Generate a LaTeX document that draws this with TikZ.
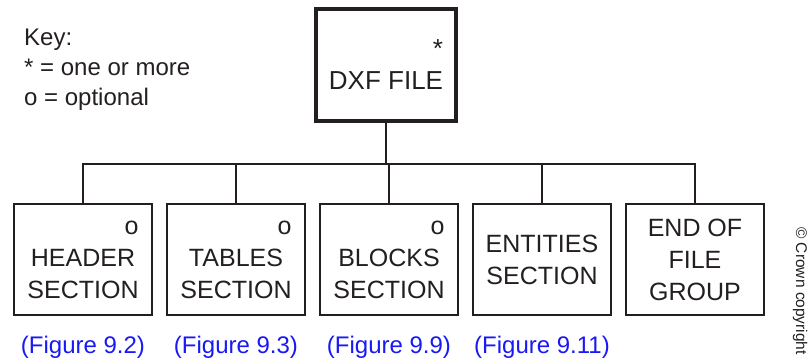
\documentclass[tikz,border=0pt]{standalone}
\usepackage{fontspec}
\setmainfont{Liberation Sans}
\usepackage{xcolor}
\usepackage{tikz}
\usetikzlibrary{positioning}
\definecolor{ink}{RGB}{35,31,32}
\definecolor{figblue}{RGB}{25,25,245}
% mark flush right over the widest line
\newcommand{\coinmark}[2]{\hphantom{#1}\llap{#2}}
\tikzstyle{section}=[
        draw=ink,
        rectangle,
        line width=2pt,
        minimum width=138pt,
        minimum height=111pt,
        align=center,
        text=ink,
        font=\fontsize{25}{32}\selectfont
]
\tikzstyle{topfile}=[section,line width=4.5pt,minimum width=140pt,
minimum height=112pt,font=\fontsize{26}{32}\selectfont]
\tikzstyle{figref}=[text=figblue,anchor=base,font=\fontsize{24}{30}\selectfont]
\tikzstyle{link}=[draw=ink,line width=2pt]

\begin{document}
\begin{tikzpicture}[x=1pt,y=-1pt]
\useasboundingbox (0,0) rectangle (809,364);
\node[topfile] (dxf) at (386,65) {\coinmark{DXF FILE}{*}\\DXF FILE};
\node[section] (hdr) at (83,259.5) {\coinmark{SECTION}{o}\\HEADER\\SECTION};
\node[section,right=13pt of hdr] (tbl) {\coinmark{SECTION}{o}\\TABLES\\SECTION};
\node[section,right=13pt of tbl] (blk) {\coinmark{SECTION}{o}\\BLOCKS\\SECTION};
\node[section,right=13pt of blk] (ent) {ENTITIES\\SECTION};
\node[section,right=13pt of ent] (eof) {END OF\\FILE\\GROUP};
\coordinate (bus) at (386,164);
%Figure references
\node[figref] (fhdr) at ([yshift=-37pt]hdr.south) {(Figure 9.2)};
\node[figref] (ftbl) at ([yshift=-37pt]tbl.south) {(Figure 9.3)};
\node[figref] (fblk) at ([yshift=-37pt]blk.south) {(Figure 9.9)};
\node[figref] (fent) at ([yshift=-37pt]ent.south) {(Figure 9.11)};
%Key and credit
\node[anchor=north west,align=left,text=ink,inner sep=0pt,
font=\fontsize{24}{30}\selectfont] (key) at (24,29) {Key:\\* = one or more\\o = optional};
\node[rotate=-90,anchor=west,inner sep=0pt,text=ink,
font=\fontsize{15.5}{18}\selectfont] (crown) at (800,227) {\textcopyright{} Crown copyright};
%Drawing Edges
\draw[link] (dxf.south) -- (bus);
\draw[link] (hdr.north) |- (bus);
\draw[link] (tbl.north) |- (bus);
\draw[link] (blk.north) |- (bus);
\draw[link] (ent.north) |- (bus);
\draw[link] (eof.north) |- (bus);
\end{tikzpicture}
\end{document}
